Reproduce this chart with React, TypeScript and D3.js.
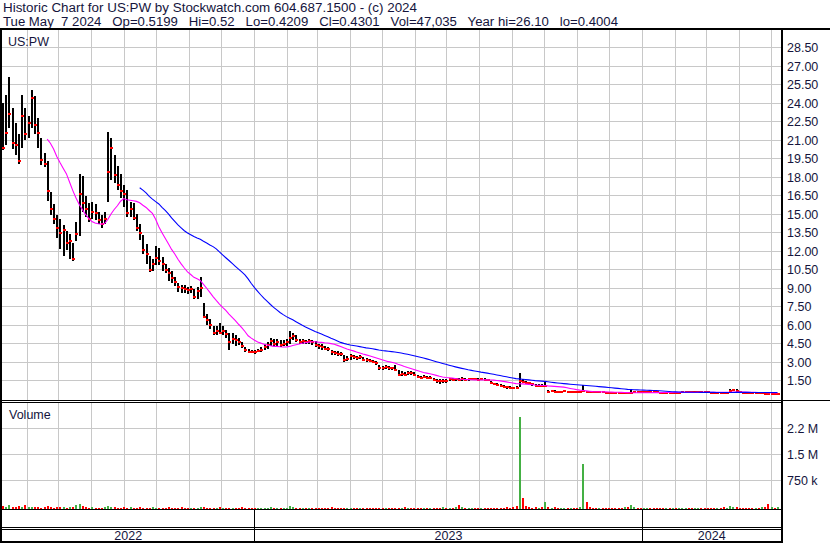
import React from 'react';
import * as d3 from 'd3';

// ---------- data ----------
const START_DATE = new Date(2022, 4, 9);
const STEP_DAYS = 3;

const CLOSE = [
  20.4, 21.6, 23.1, 20.8, 20.6, 19.3, 23.0, 21.5, 22.4, 24.4,
  22.2, 21.6, 19.4, 19.1, 16.9, 15.4, 14.6, 13.9, 13.5, 13.7,
  12.7, 12.8, 11.4, 13.4, 16.6, 15.9, 15.4, 14.6, 15.2, 15.1,
  14.5, 14.2, 14.6, 18.4, 20.4, 18.2, 17.4, 16.9, 16.6, 15.1,
  15.4, 14.7, 13.9, 13.5, 12.1, 11.8, 10.5, 11.0, 11.45, 11.2,
  11.0, 10.5, 10.2, 9.8, 9.5, 9.1, 9.0, 8.9, 8.85, 8.9,
  8.3, 8.8, 9.0, 6.7, 6.4, 6.0, 5.35, 5.5, 5.4, 5.5,
  5.3, 4.6, 4.9, 4.8, 4.6, 4.3, 3.95, 3.85, 3.85, 3.8,
  3.9, 3.95, 4.2, 4.4, 4.7, 4.5, 4.6, 4.4, 4.5, 4.6,
  5.0, 5.1, 4.8, 4.6, 4.7, 4.6, 4.7, 4.6, 4.4, 4.3,
  4.2, 4.1, 4.1, 3.8, 3.75, 3.7, 3.7, 3.2, 3.3, 3.5,
  3.4, 3.35, 3.4, 3.2, 3.2, 3.1, 3.0, 2.9, 2.5, 2.5,
  2.6, 2.5, 2.5, 2.4, 2.0, 2.05, 1.95, 2.1, 2.1, 2.0,
  1.8, 1.75, 1.8, 1.7, 1.75, 1.55, 1.5, 1.45, 1.5, 1.45,
  1.6, 1.55, 1.6, 1.58, 1.6, 1.55, 1.6, 1.62, 1.6, 1.58,
  1.6, 1.58, 1.55, 1.3, 1.25, 1.15, 1.1, 1.0, 0.95, 0.9,
  0.9, 0.88, 1.45, 1.4, 1.35, 1.3, 1.2, 1.07, 1.1, 1.05,
  1.07, 0.62, 0.65, 0.62, 0.6, 0.62, 0.63, 0.6, 0.62, 0.61,
  0.6, 0.62, 0.65, 0.6, 0.57, 0.56, 0.55, 0.56, 0.55, 0.54,
  0.52, 0.5, 0.48, 0.48, 0.47, 0.48, 0.47, 0.5, 0.58, 0.58,
  0.57, 0.58, 0.6, 0.58, 0.57, 0.55, 0.53, 0.52, 0.53, 0.52,
  0.53, 0.52, 0.53, 0.55, 0.58, 0.58, 0.57, 0.58, 0.6, 0.58,
  0.57, 0.56, 0.53, 0.52, 0.53, 0.52, 0.5, 0.52, 0.7, 0.75,
  0.7, 0.62, 0.5, 0.48, 0.48, 0.47, 0.48, 0.47, 0.48, 0.44,
  0.43, 0.44, 0.42, 0.43,
];

const HIGH = [
  24.0, 24.7, 26.1, 23.6, 22.4, 21.5, 24.7, 23.6, 23.0, 25.1,
  24.6, 22.8, 21.2, 20.0, 19.3, 16.8, 15.8, 14.9, 14.6, 14.1,
  13.6, 13.4, 12.7, 14.4, 18.3, 18.1, 16.5, 15.9, 16.0, 15.8,
  15.2, 14.9, 15.2, 21.7, 21.2, 19.8, 18.9, 18.3, 17.4, 17.0,
  16.0, 15.9, 15.0, 14.2, 13.3, 12.6, 11.6, 11.4, 12.4, 12.3,
  11.5, 11.0, 10.6, 10.4, 9.9, 9.4, 9.3, 9.3, 9.1, 9.2,
  8.9, 9.1, 9.9, 7.8, 6.9, 6.5, 5.9, 5.9, 6.2, 5.9,
  5.6, 5.4, 5.4, 5.2, 5.0, 4.6, 4.2, 4.1, 4.0, 4.0,
  4.1, 4.2, 4.5, 4.6, 5.0, 4.9, 4.9, 4.8, 4.8, 4.9,
  5.5, 5.4, 5.2, 4.9, 4.9, 4.8, 4.9, 4.8, 4.7, 4.5,
  4.5, 4.3, 4.2, 4.0, 3.9, 3.9, 3.85, 3.6, 3.5, 3.7,
  3.6, 3.5, 3.55, 3.4, 3.35, 3.3, 3.2, 3.1, 2.8, 2.7,
  2.75, 2.7, 2.65, 2.8, 2.35, 2.3, 2.2, 2.3, 2.25, 2.2,
  1.95, 1.9, 1.95, 1.85, 1.9, 1.7, 1.65, 1.6, 1.6, 1.6,
  1.75, 1.7, 1.72, 1.7, 1.8, 1.7, 1.72, 1.72, 1.7, 1.68,
  1.7, 1.68, 1.65, 1.45, 1.35, 1.3, 1.25, 1.15, 1.1, 1.05,
  1.0, 1.05, 2.1, 1.6, 1.5, 1.4, 1.3, 1.2, 1.2, 1.2,
  1.4, 0.75, 0.75, 0.72, 0.7, 0.7, 0.72, 0.7, 0.7, 0.7,
  0.68, 0.7, 1.15, 0.7, 0.65, 0.64, 0.62, 0.64, 0.62, 0.6,
  0.6, 0.56, 0.55, 0.54, 0.53, 0.54, 0.53, 0.8, 0.65, 0.64,
  0.63, 0.64, 0.66, 0.64, 0.62, 0.62, 0.6, 0.58, 0.6, 0.58,
  0.6, 0.58, 0.6, 0.62, 0.64, 0.65, 0.63, 0.64, 0.66, 0.64,
  0.63, 0.62, 0.6, 0.58, 0.59, 0.58, 0.57, 0.58, 0.8, 0.85,
  0.8, 0.7, 0.58, 0.55, 0.55, 0.54, 0.55, 0.53, 0.54, 0.5,
  0.48, 0.5, 0.47, 0.52,
];

const LOW = [
  20.2, 20.6, 22.0, 20.3, 19.8, 19.1, 20.4, 21.0, 21.2, 22.0,
  21.5, 20.4, 19.0, 18.8, 16.1, 14.9, 14.2, 13.1, 12.2, 11.6,
  12.1, 11.4, 11.2, 12.8, 13.2, 15.2, 14.8, 14.4, 14.6, 14.5,
  14.2, 13.9, 14.2, 16.0, 17.8, 17.5, 17.0, 16.3, 15.6, 14.8,
  14.8, 14.5, 13.6, 12.9, 11.8, 11.0, 10.3, 10.4, 10.9, 10.9,
  10.4, 10.2, 9.6, 9.4, 9.2, 8.7, 8.6, 8.6, 8.5, 8.6,
  8.1, 8.1, 8.3, 6.6, 6.0, 5.7, 5.2, 5.2, 5.3, 5.2,
  5.0, 4.0, 4.5, 4.3, 4.4, 4.15, 3.8, 3.75, 3.75, 3.7,
  3.8, 3.8, 4.0, 4.1, 4.3, 4.3, 4.3, 4.2, 4.3, 4.3,
  4.5, 4.8, 4.6, 4.5, 4.5, 4.5, 4.5, 4.4, 4.2, 4.1,
  4.0, 3.95, 3.9, 3.6, 3.55, 3.5, 3.5, 3.0, 3.1, 3.2,
  3.25, 3.2, 3.25, 3.1, 3.05, 3.0, 2.9, 2.8, 2.4, 2.4,
  2.45, 2.4, 2.4, 2.3, 1.9, 1.9, 1.88, 1.95, 1.95, 1.9,
  1.7, 1.65, 1.7, 1.6, 1.65, 1.45, 1.3, 1.25, 1.3, 1.3,
  1.45, 1.45, 1.45, 1.45, 1.5, 1.48, 1.5, 1.55, 1.52, 1.52,
  1.52, 1.5, 1.5, 1.25, 1.2, 1.05, 1.0, 0.95, 0.85, 0.82,
  0.8, 0.8, 0.95, 1.3, 1.25, 1.2, 1.1, 1.0, 1.0, 1.0,
  1.0, 0.56, 0.58, 0.56, 0.55, 0.56, 0.57, 0.55, 0.56, 0.55,
  0.54, 0.55, 0.58, 0.55, 0.52, 0.5, 0.5, 0.5, 0.5, 0.49,
  0.47, 0.45, 0.44, 0.43, 0.42, 0.43, 0.42, 0.45, 0.52, 0.53,
  0.52, 0.53, 0.54, 0.52, 0.52, 0.5, 0.48, 0.47, 0.48, 0.47,
  0.48, 0.48, 0.48, 0.5, 0.53, 0.53, 0.52, 0.53, 0.54, 0.53,
  0.52, 0.51, 0.48, 0.47, 0.48, 0.47, 0.46, 0.47, 0.55, 0.65,
  0.62, 0.56, 0.46, 0.44, 0.44, 0.43, 0.44, 0.43, 0.44, 0.41,
  0.4, 0.41, 0.4, 0.42,
];

// volume in thousands of shares
const VOLUME_K = [
  90, 60, 120, 70, 50, 80, 60, 110, 70, 60,
  50, 70, 40, 60, 90, 50, 40, 60, 70, 50,
  40, 50, 60, 110, 130, 90, 60, 40, 50, 40,
  30, 40, 60, 90, 70, 50, 40, 30, 50, 40,
  60, 40, 30, 50, 40, 30, 40, 50, 30, 40,
  30, 40, 50, 30, 40, 30, 50, 40, 30, 40,
  30, 40, 70, 60, 40, 30, 40, 30, 50, 40,
  30, 40, 30, 40, 30, 50, 40, 30, 40, 30,
  40, 30, 40, 30, 50, 40, 30, 40, 30, 40,
  100, 60, 40, 30, 40, 30, 40, 30, 40, 30,
  30, 40, 30, 50, 30, 40, 30, 40, 30, 40,
  30, 40, 30, 40, 30, 30, 40, 30, 40, 30,
  40, 30, 40, 30, 40, 30, 50, 40, 30, 40,
  30, 40, 30, 40, 30, 40, 30, 40, 50, 40,
  30, 40, 60, 110, 50, 40, 30, 40, 30, 40,
  30, 40, 30, 40, 30, 40, 30, 40, 50, 40,
  60, 90, 2650, 320, 80, 50, 40, 60, 40, 50,
  210, 60, 40, 50, 40, 30, 40, 30, 40, 30,
  40, 50, 1310, 200, 60, 40, 30, 40, 30, 40,
  30, 40, 30, 40, 30, 50, 60, 115, 60, 40,
  30, 40, 30, 40, 30, 40, 30, 40, 30, 40,
  30, 40, 30, 40, 30, 40, 30, 40, 30, 40,
  30, 40, 30, 40, 30, 40, 50, 40, 100, 60,
  50, 40, 30, 40, 30, 40, 30, 40, 50, 60,
  140, 50, 40, 60,
];

const PRICE_TICKS = [1.5, 3, 4.5, 6, 7.5, 9, 10.5, 12, 13.5, 15, 16.5, 18, 19.5, 21, 22.5, 24, 25.5, 27, 28.5];
const VOL_TICKS = [750000, 1500000, 2250000];
const VOL_TICK_LABELS = ['750 k', '1.5 M', '2.2 M'];
const YEAR_LABELS = ['2022', '2023', '2024'];
const MA_SHORT_N = 15;
const MA_LONG_N = 44;

const TITLE = 'Historic Chart for US:PW by Stockwatch.com 604.687.1500 - (c) 2024';
const SUBTITLE = 'Tue May  7 2024   Op=0.5199   Hi=0.52   Lo=0.4209   Cl=0.4301   Vol=47,035   Year hi=26.10   lo=0.4004';
const SYMBOL = 'US:PW';
const VOL_TITLE = 'Volume';

// ---------- layout ----------
const W = 830;
const H = 543;
const LEFT = 2;
const RIGHT = 781;
const PRICE_TOP = 30;
const PRICE_BOTTOM = 400;
const VOL_TOP = 402;
const VOL_BOTTOM = 509;
const FONT = '"Liberation Sans", Arial, Helvetica, sans-serif';
const TEXT = '#14143c';
const GRID = '#c8c8c8';

export default function App() {
  const n = Math.min(CLOSE.length, HIGH.length, LOW.length, VOLUME_K.length);
  const dates = d3.range(n).map((i) => d3.timeDay.offset(START_DATE, i * STEP_DAYS));

  const x = d3
    .scaleTime()
    .domain([new Date(2023, 0, 1), new Date(2024, 0, 1)])
    .range([254.5, 642.5]);
  const y = d3.scaleLinear().domain([0, 30]).range([399.2, 29.2]);
  // volume axis (gridlines / labels) and bar scale rooted at the panel bottom
  const yv = d3.scaleLinear().domain([0, 3000000]).range([506.5, 402.5]);
  const yvBar = d3.scaleLinear().domain([0, 3000000]).range([VOL_BOTTOM, VOL_BOTTOM - 104]);

  const px = (d: Date) => Math.floor(x(d)) + 0.5;

  const months = d3
    .timeMonth.range(new Date(2022, 4, 1), new Date(2024, 6, 1))
    .filter((d) => x(d) > LEFT + 1 && x(d) < RIGHT - 1);

  const yearBounds = [LEFT, x(new Date(2023, 0, 1)), x(new Date(2024, 0, 1)), RIGHT];

  const ma = (N: number) =>
    d3.range(n).map((i) => (i >= N - 1 ? (d3.mean(CLOSE.slice(i - N + 1, i + 1)) as number) : null));
  const maShort = ma(MA_SHORT_N);
  const maLong = ma(MA_LONG_N);

  const line = d3
    .line<number | null>()
    .defined((v) => v !== null)
    .x((_, i) => x(dates[i]))
    .y((v) => y(v as number));

  return (
    <svg
      width={W}
      height={H}
      viewBox={`0 0 ${W} ${H}`}
      style={{ position: 'absolute', left: 0, top: 0, display: 'block', background: '#fff' }}
      fontFamily={FONT}
    >
      <rect x={0} y={0} width={W} height={H} fill="#fff" />

      {/* header */}
      <text x={3} y={12} fontSize={12.5} fill={TEXT} textLength={414} lengthAdjust="spacingAndGlyphs">
        {TITLE}
      </text>
      <text
        x={3}
        y={26}
        fontSize={12.5}
        fill={TEXT}
        textLength={615}
        lengthAdjust="spacingAndGlyphs"
        style={{ whiteSpace: 'pre' }}
        xmlSpace="preserve"
      >
        {SUBTITLE}
      </text>

      {/* grid */}
      <g shapeRendering="crispEdges" stroke={GRID} strokeWidth={1}>
        {months.map((d, i) => (
          <g key={i}>
            <line x1={px(d)} x2={px(d)} y1={PRICE_TOP} y2={PRICE_BOTTOM} />
            <line x1={px(d)} x2={px(d)} y1={VOL_TOP + 1} y2={VOL_BOTTOM} />
          </g>
        ))}
        {PRICE_TICKS.map((t) => (
          <line key={t} x1={LEFT} x2={RIGHT} y1={Math.floor(y(t)) + 0.5} y2={Math.floor(y(t)) + 0.5} />
        ))}
        {VOL_TICKS.map((t) => (
          <line key={t} x1={LEFT} x2={RIGHT} y1={Math.floor(yv(t)) + 0.5} y2={Math.floor(yv(t)) + 0.5} />
        ))}
      </g>

      {/* price labels */}
      {PRICE_TICKS.map((t) => (
        <text key={t} x={787} y={y(t)} dy="0.35em" fontSize={12.5} fill={TEXT}>
          {t.toFixed(2)}
        </text>
      ))}
      {VOL_TICKS.map((t, i) => (
        <text key={t} x={787} y={yv(t)} dy="0.35em" fontSize={12.5} fill={TEXT}>
          {VOL_TICK_LABELS[i]}
        </text>
      ))}

      <text x={8} y={46} fontSize={12.5} fill={TEXT}>
        {SYMBOL}
      </text>
      <text x={9} y={419} fontSize={12.5} fill={TEXT}>
        {VOL_TITLE}
      </text>

      {/* price bars */}
      <g shapeRendering="crispEdges">
        {dates.map((d, i) => {
          const xx = Math.floor(x(d));
          const y1 = Math.round(y(HIGH[i]));
          const y2 = Math.max(Math.round(y(LOW[i])), y1 + 1);
          return <rect key={i} x={xx} y={y1} width={2} height={y2 - y1} fill="#000" />;
        })}
        {dates.map((d, i) => (
          <rect
            key={'c' + i}
            x={Math.floor(x(d))}
            y={Math.round(y(CLOSE[i])) - 1}
            width={3}
            height={2}
            fill="#ff0000"
          />
        ))}
      </g>

      {/* moving averages */}
      <path d={line(maShort) || ''} fill="none" stroke="#ff00ff" strokeWidth={1.1} />
      <path d={line(maLong) || ''} fill="none" stroke="#0000ff" strokeWidth={1.1} />

      {/* volume bars */}
      <g shapeRendering="crispEdges">
        {dates.map((d, i) => {
          const v = VOLUME_K[i] * 1000;
          const top = Math.min(Math.round(yvBar(v)), VOL_BOTTOM - 1);
          const up = i > 0 && CLOSE[i] > CLOSE[i - 1];
          return (
            <rect
              key={i}
              x={Math.floor(x(d))}
              y={top}
              width={2}
              height={VOL_BOTTOM - top}
              fill={up ? '#44b044' : '#ff0000'}
            />
          );
        })}
      </g>

      {/* frame */}
      <g shapeRendering="crispEdges" fill="#000">
        <rect x={0} y={28} width={W} height={2} />
        <rect x={0} y={28} width={2} height={H - 28} />
        <rect x={RIGHT} y={28} width={2} height={H - 28} />
        <rect x={0} y={PRICE_BOTTOM} width={W} height={1} />
        <rect x={0} y={VOL_TOP} width={RIGHT} height={1} />
        <rect x={0} y={VOL_BOTTOM} width={RIGHT} height={1} />
        <rect x={0} y={527} width={RIGHT} height={1} />
        <rect x={0} y={529} width={RIGHT} height={1} />
        <rect x={0} y={541} width={RIGHT} height={2} />
        {yearBounds.slice(1, 3).map((b, i) => (
          <rect key={i} x={Math.floor(b)} y={VOL_BOTTOM} width={1} height={H - VOL_BOTTOM} />
        ))}
      </g>

      {YEAR_LABELS.map((lbl, i) => (
        <text
          key={lbl}
          x={(yearBounds[i] + yearBounds[i + 1]) / 2}
          y={536}
          dy="0.35em"
          textAnchor="middle"
          fontSize={12.5}
          fill={TEXT}
        >
          {lbl}
        </text>
      ))}
    </svg>
  );
}
